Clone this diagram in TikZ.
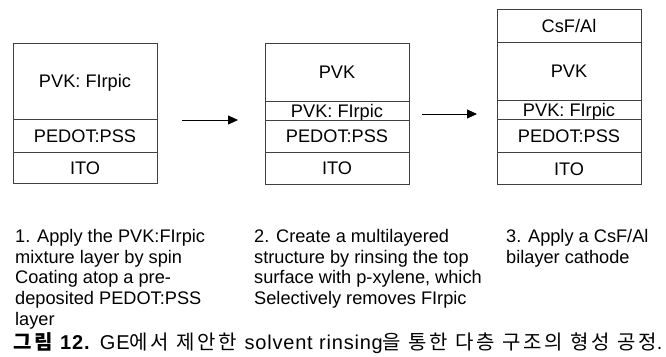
\documentclass[tikz,border=0pt]{standalone}
\usepackage{fontspec}
\setmainfont{Liberation Sans}
\newfontfamily\capko{Noto Sans CJK KR}[LetterSpace=14]
\newfontfamily\capla{Liberation Sans}[LetterSpace=4]
\usetikzlibrary{arrows.meta}
\begin{document}
\begin{tikzpicture}[x=1pt,y=-1pt,
  layer/.style={draw=black!75,line width=0.8pt,minimum width=144pt,
    inner sep=0pt,text height=13pt,text depth=0pt,
    font=\fontsize{18.2}{20}\selectfont},
  arr/.style={line width=0.8pt,-{Triangle[length=10pt,width=9pt]}},
  note/.style={anchor=base west,align=left,inner sep=0pt,
    font=\fontsize{18.2}{20.6}\selectfont}]
\useasboundingbox (0,0) rectangle (666,356);

% stack 1
\node[layer,minimum height=76pt]   (b1a) at (85,81)      {PVK: FIrpic};
\node[layer,minimum height=33pt]   (b1b) at (85,135.5)   {PEDOT:PSS};
\node[layer,minimum height=31.5pt] (b1c) at (85,167.75)  {ITO};

% stack 2
\node[layer,minimum height=58pt]   (b2a) at (337,72)     {PVK};
\node[layer,minimum height=19pt]   (b2b) at (337,110.5)  {PVK: FIrpic};
\node[layer,minimum height=32pt]   (b2c) at (337,136)    {PEDOT:PSS};
\node[layer,minimum height=32pt]   (b2d) at (337,168)    {ITO};

% stack 3
\node[layer,minimum height=33pt]   (b3a) at (569,25.8)   {CsF/Al};
\node[layer,minimum height=57.7pt] (b3b) at (569,71.15)  {PVK};
\node[layer,minimum height=19.3pt] (b3c) at (569,109.65) {PVK: FIrpic};
\node[layer,minimum height=33.4pt] (b3d) at (569,136)    {PEDOT:PSS};
\node[layer,minimum height=31.6pt] (b3e) at (569,168.5)  {ITO};

% process arrows
\coordinate (s1) at (182,120);
\coordinate (e1) at (238,120);
\coordinate (s2) at (422,114);
\coordinate (e2) at (477,114);
\draw[arr] (s1) -- (e1);
\draw[arr] (s2) -- (e2);

% step descriptions (anchored at the baseline of the last line)
\node[note] (t1) at (15,325) {1. Apply the PVK:FIrpic\\mixture layer by spin\\Coating atop a pre-\\deposited PEDOT:PSS\\layer};
\node[note] (t2) at (254,304.4) {2. Create a multilayered\\structure by rinsing the top\\surface with p-xylene, which\\Selectively removes FIrpic};
\node[note] (t3) at (506,263.2) {3. Apply a CsF/Al\\bilayer cathode};

% caption
\node[anchor=base west,inner sep=0pt,font=\fontsize{20}{22}\selectfont] (cap) at (13,349)
  {{\bfseries\capko 그림 \capla 12.}\hspace{3pt} {\capla GE}{\capko 에서 제안한 }{\capla solvent rinsing}{\capko 을 통한 다층 구조의 형성 공정}{\capla .}};
\end{tikzpicture}
\end{document}
